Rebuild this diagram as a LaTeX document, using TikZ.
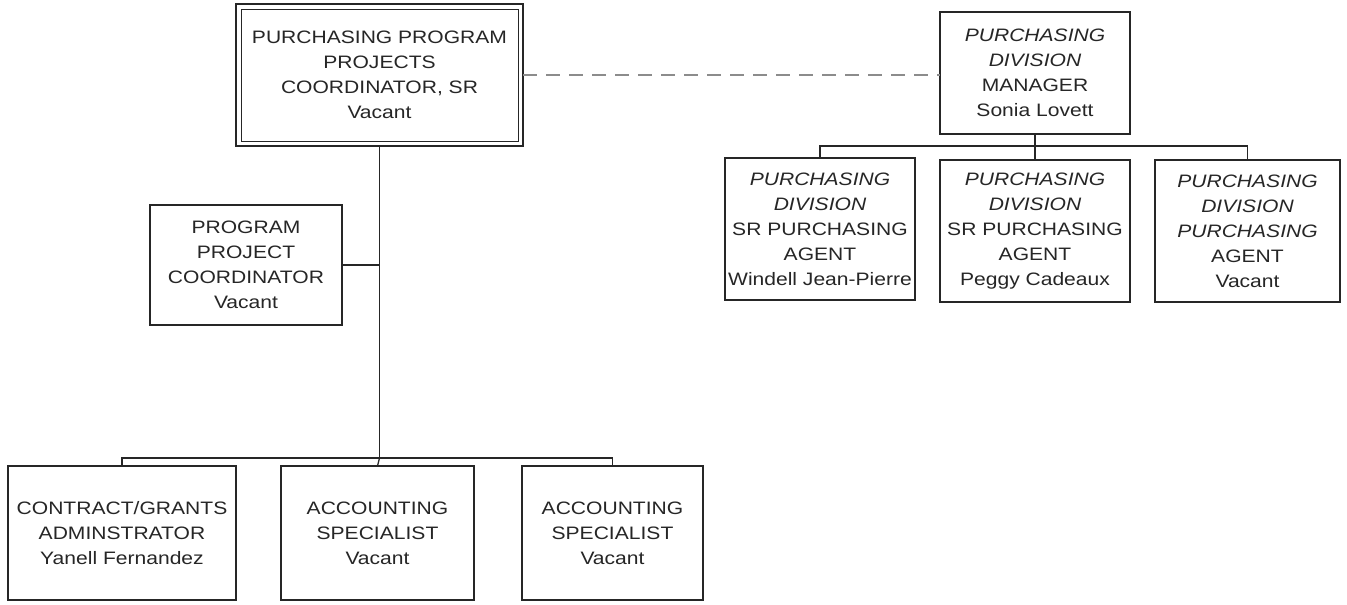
\documentclass[tikz,border=0pt]{standalone}
\usepackage{fontspec}
\setmainfont{Liberation Sans}[FakeStretch=1.17]
\begin{document}
\begin{tikzpicture}[x=1pt,y=-1pt,
  every node/.style={inner sep=0pt,outer sep=0pt},
  posbox/.style={draw=black!85,line width=1.5pt,fill=white,align=center,
    text=black!85,font=\fontsize{18}{25}\selectfont},
  boldbox/.style={posbox,line width=2.4pt},
  link/.style={draw=black!85,line width=1.3pt},
  dotted link/.style={draw=black!45,line width=2pt,dash pattern=on 14pt off 9pt}]
\useasboundingbox (0,0) rectangle (1347,605);

% senior coordinator with a double frame
\node[boldbox,minimum width=287pt,minimum height=142pt] (top) at (379.5,75)
  {PURCHASING PROGRAM\\PROJECTS\\COORDINATOR, SR\\Vacant};
\draw[line width=1pt,black!85] ([shift={(5,5)}]top.north west) rectangle ([shift={(-5,-5)}]top.south east);

\node[posbox,minimum width=192pt,minimum height=120pt] (ppc) at (246,265)
  {PROGRAM\\PROJECT\\COORDINATOR\\Vacant};

\node[posbox,minimum width=228pt,minimum height=134pt] (cg) at (122,533)
  {CONTRACT/GRANTS\\ADMINSTRATOR\\Yanell Fernandez};
\node[posbox,minimum width=193pt,minimum height=134pt] (acc1) at (377.5,533)
  {ACCOUNTING\\SPECIALIST\\Vacant};
\node[posbox,minimum width=181pt,minimum height=134pt] (acc2) at (612.5,533)
  {ACCOUNTING\\SPECIALIST\\Vacant};

% purchasing division
\node[posbox,minimum width=190pt,minimum height=122pt] (mgr) at (1035,73)
  {\textit{PURCHASING}\\\textit{DIVISION}\\MANAGER\\Sonia Lovett};
\node[boldbox,line width=2pt,minimum width=190pt,minimum height=142pt] (spa1) at (820,229)
  {\textit{PURCHASING}\\\textit{DIVISION}\\SR PURCHASING\\AGENT\\Windell Jean-Pierre};
\node[posbox,minimum width=190pt,minimum height=142pt] (spa2) at (1035,231)
  {\textit{PURCHASING}\\\textit{DIVISION}\\SR PURCHASING\\AGENT\\Peggy Cadeaux};
\node[posbox,minimum width=185pt,minimum height=142pt] (pa) at (1247.5,231)
  {\textit{PURCHASING}\\\textit{DIVISION}\\\textit{PURCHASING}\\AGENT\\Vacant};

% junction points of the bus lines
\coordinate (jL) at (379.5,458);
\coordinate (jR) at (1035,146);

% left tree
\draw[link] (top.south) -- (jL);
\draw[link] (ppc.east) -- (ppc.east -| top.south);
\draw[link] (cg.north) |- (jL) -| (acc2.north);
\draw[link] (jL) -- (acc1.north);

% right tree
\draw[link] (mgr.south) -- (jR);
\draw[link] (spa1.north) |- (jR) -| (pa.north);
\draw[link] (jR) -- (spa2.north);

% dotted-line relationship
\draw[dotted link] (top.east) -- (top.east -| mgr.west);
\end{tikzpicture}
\end{document}
